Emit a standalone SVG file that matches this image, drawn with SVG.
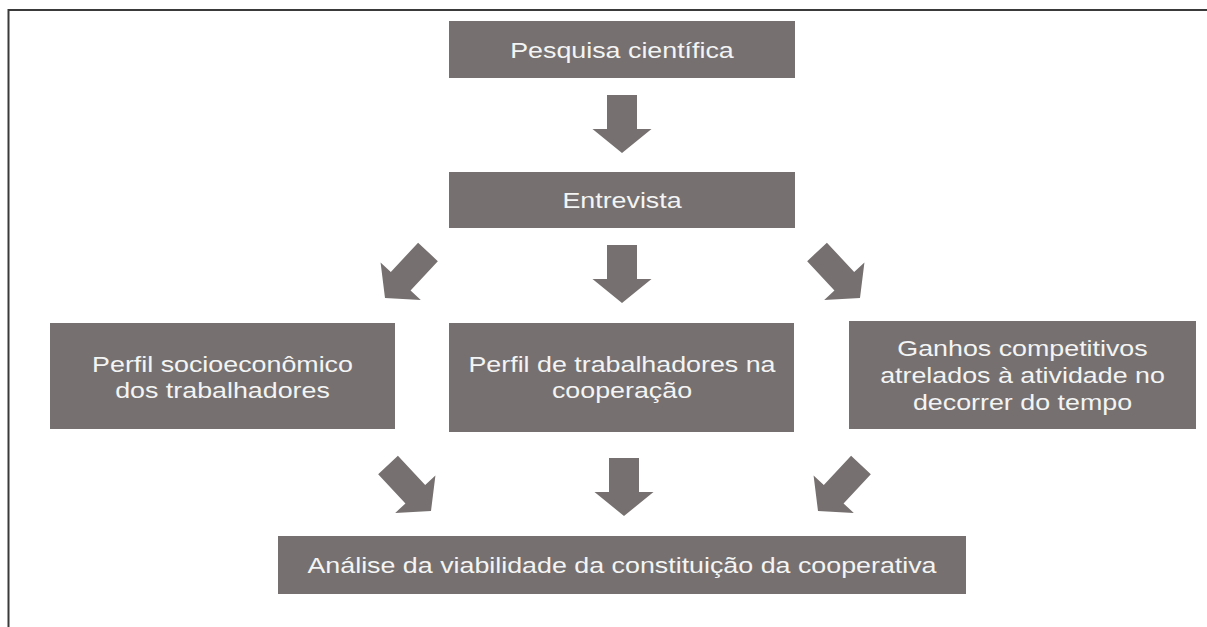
<svg xmlns="http://www.w3.org/2000/svg" width="1207" height="627" viewBox="0 0 1207 627">
  <defs>
    <style>
      .box { fill: #767170; }
      .lbl { fill: #f4f4f4; font-family: "Liberation Sans", Arial, sans-serif; font-size: 22px; text-anchor: middle; }
      .arr { fill: #767170; }
      .frame { stroke: #3a3a3a; stroke-width: 2; fill: none; }
    </style>
    <polygon id="down" points="-15,-58 15,-58 15,-24 29.5,-24 0,0 -29.5,-24 -15,-24"/>
    <polygon id="diag" points="-13.5,-63 13.5,-63 13.5,-23 27.5,-23 0,0 -27.5,-23 -13.5,-23"/>
  </defs>
  <rect x="0" y="0" width="1207" height="627" fill="#ffffff"/>
  <path class="frame" d="M8.5,627 V10 H1207"/>

  <g id="n-pesquisa">
    <rect class="box" x="449" y="21" width="346" height="57"/>
    <text class="lbl" transform="translate(622,57.5) scale(1.22,1)">Pesquisa científica</text>
  </g>
  <g id="n-entrevista">
    <rect class="box" x="449" y="172" width="346" height="56"/>
    <text class="lbl" transform="translate(622,208) scale(1.22,1)">Entrevista</text>
  </g>
  <g id="n-perfil-socio">
    <rect class="box" x="50" y="323" width="345" height="106"/>
    <text class="lbl" transform="translate(222.5,372) scale(1.22,1)">Perfil socioeconômico</text>
    <text class="lbl" transform="translate(222.5,398) scale(1.22,1)">dos trabalhadores</text>
  </g>
  <g id="n-perfil-coop">
    <rect class="box" x="449" y="323" width="345" height="109"/>
    <text class="lbl" transform="translate(622,372) scale(1.22,1)">Perfil de trabalhadores na</text>
    <text class="lbl" transform="translate(622,398) scale(1.22,1)">cooperação</text>
  </g>
  <g id="n-ganhos">
    <rect class="box" x="849" y="321" width="347" height="108"/>
    <text class="lbl" transform="translate(1022.5,356) scale(1.22,1)">Ganhos competitivos</text>
    <text class="lbl" transform="translate(1022.5,383) scale(1.22,1)">atrelados à atividade no</text>
    <text class="lbl" transform="translate(1022.5,410) scale(1.22,1)">decorrer do tempo</text>
  </g>
  <g id="n-analise">
    <rect class="box" x="278" y="536" width="688" height="58"/>
    <text class="lbl" transform="translate(622,573) scale(1.22,1)">Análise da viabilidade da constituição da cooperativa</text>
  </g>

  <g id="connectors" class="arr">
    <use href="#down" transform="translate(622,153)"/>
    <use href="#diag" transform="translate(385,298) rotate(43)"/>
    <use href="#down" transform="translate(622,303)"/>
    <use href="#diag" transform="translate(860,298) rotate(-43)"/>
    <use href="#diag" transform="translate(431,511) rotate(-43)"/>
    <use href="#down" transform="translate(624,516)"/>
    <use href="#diag" transform="translate(818,511) rotate(43)"/>
  </g>
</svg>
